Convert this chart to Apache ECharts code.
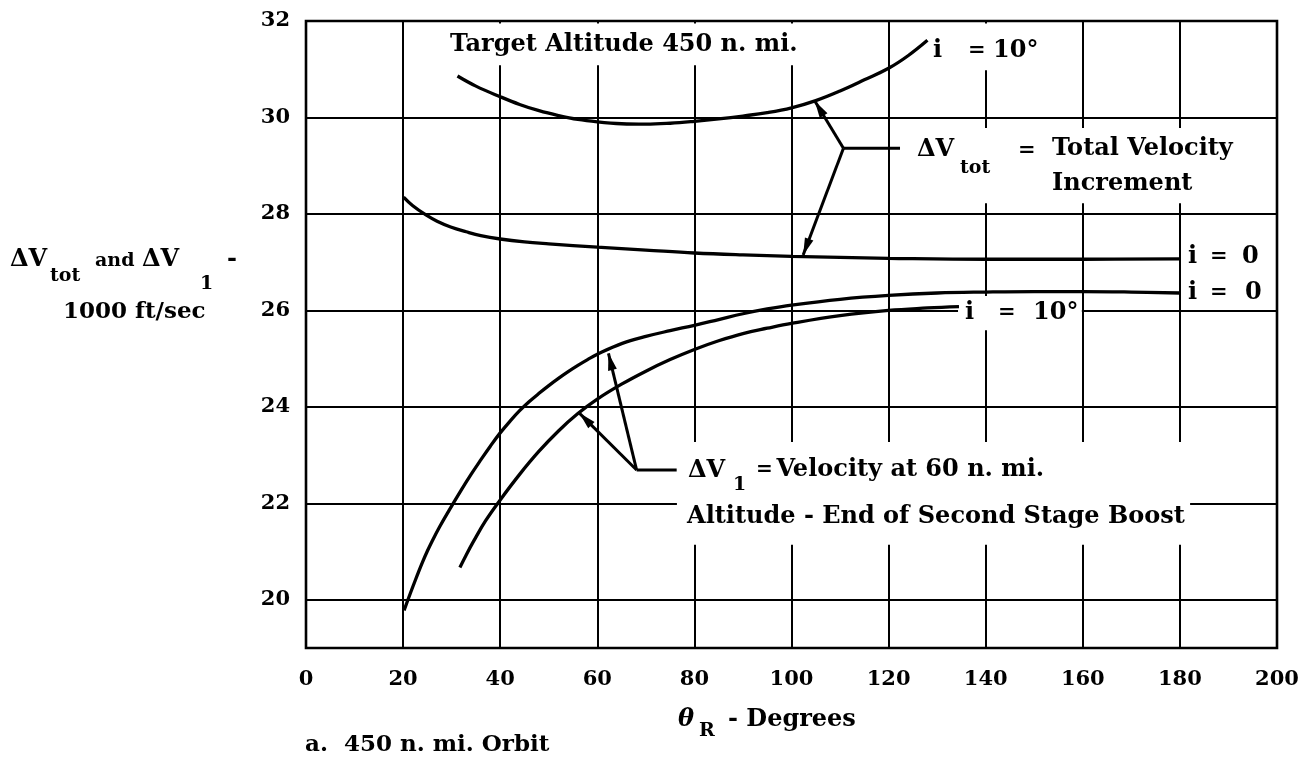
<!DOCTYPE html>
<html>
<head>
<meta charset="utf-8">
<script src="https://cdn.jsdelivr.net/npm/echarts@6/dist/echarts.min.js"></script>
<style>
  html, body { margin: 0; padding: 0; background: #fff; }
  #chart { width: 1312px; height: 761px; }
</style>
</head>
<body>
<div id="chart"></div>
<script>
// Velocity requirements vs. range angle, 450 n. mi. target orbit

const xTickLabels = [0, 20, 40, 60, 80, 100, 120, 140, 160, 180, 200];
const yTickLabels = [20, 22, 24, 26, 28, 30, 32];

// ΔVtot, i = 10°   [θR deg, 1000 ft/sec]
const dvTotIncl10 = [
  [31.2, 30.86], [35, 30.65], [40, 30.43], [44, 30.27], [48, 30.14], [52, 30.04],
  [56, 29.96], [60, 29.91], [65, 29.87], [70, 29.86], [75, 29.88], [80, 29.92],
  [85, 29.97], [90, 30.03], [95, 30.1], [100, 30.2], [105, 30.35], [110, 30.55],
  [115, 30.78], [120, 31.02], [124, 31.28], [128, 31.6]
];

// ΔVtot, i = 0
const dvTotIncl0 = [
  [20.1, 28.35], [22, 28.17], [24.7, 27.98], [27, 27.85], [29.8, 27.73], [33, 27.63],
  [36, 27.55], [40, 27.48], [45, 27.42], [50, 27.38], [60, 27.31], [70, 27.25],
  [80, 27.19], [90, 27.15], [100, 27.12], [110, 27.1], [120, 27.08], [140, 27.06],
  [160, 27.06], [180, 27.07]
];

// ΔV1, i = 0
const dv1Incl0 = [
  [20.2, 19.78], [21, 20.0], [22, 20.27], [23, 20.53], [24, 20.78], [25, 21.01],
  [26, 21.22], [27.5, 21.51], [29.5, 21.86], [32, 22.28], [34, 22.6], [36, 22.9],
  [38, 23.19], [40, 23.46], [42, 23.7], [44, 23.92], [46, 24.11], [48, 24.28],
  [50, 24.44], [52, 24.59], [54, 24.73], [56, 24.86], [58, 24.98], [60, 25.09],
  [65, 25.31], [70, 25.46], [75, 25.58], [80, 25.69], [85, 25.81], [90, 25.93],
  [95, 26.03], [100, 26.11], [110, 26.23], [120, 26.31], [130, 26.36], [140, 26.38],
  [150, 26.39], [160, 26.39], [170, 26.38], [180, 26.36]
];

// ΔV1, i = 10°
const dv1Incl10 = [
  [31.7, 20.67], [33, 20.93], [34.5, 21.21], [37, 21.64], [40, 22.07], [44, 22.6],
  [48, 23.08], [52, 23.5], [56, 23.86], [60, 24.16], [65, 24.47], [70, 24.74],
  [75, 24.98], [80, 25.19], [85, 25.37], [90, 25.52], [95, 25.63], [100, 25.73],
  [110, 25.89], [120, 26.0], [128, 26.05], [134.5, 26.08]
];

// leader lines: [fromX, fromY, toX, toY, arrowhead?]
const leadersTot = [
  [110.7, 29.36, 104.8, 30.34, 1],
  [110.7, 29.36, 102.4, 27.15, 1],
  [110.7, 29.36, 122.35, 29.36, 0]
];
const leadersV1 = [
  [68.1, 22.69, 62.3, 25.11, 1],
  [68.1, 22.69, 56.3, 23.87, 1],
  [68.1, 22.69, 76.35, 22.69, 0]
];

// blank panels behind the in-plot notes: [x0, y0, x1, y1]
const notePanels = [
  [28.63, 31.95, 104.2, 31.08],
  [128.5, 31.95, 151.2, 30.98],
  [123.4, 29.78, 196.9, 28.22],
  [76.4, 23.27, 182.1, 21.14],
  [134.3, 26.30, 159.8, 25.59]
];

const FONT = '"DejaVu Serif", "Liberation Serif", serif';
const TXT = 24, SUB = 19, EQ = 21;

// in-plot notes, anchored at [θR, velocity] (left edge, vertical middle)
const notes = [
  { at: [29.66, 31.50], text: 'Target Altitude 450 n. mi.', size: TXT },
  { at: [129.14, 31.39], text: 'i', size: TXT },
  { at: [136.35, 31.39], text: '=', size: EQ },
  { at: [141.5, 31.39], text: '10°', size: TXT },

  { at: [125.85, 29.34], text: 'ΔV', size: TXT },
  { at: [134.7, 28.95], text: 'tot', size: SUB },
  { at: [146.65, 29.32], text: '=', size: EQ },
  { at: [153.66, 29.36], text: 'Total Velocity', size: TXT },
  { at: [153.66, 28.62], text: 'Increment', size: TXT },

  { at: [135.74, 25.95], text: 'i', size: TXT },
  { at: [142.53, 25.95], text: '=', size: EQ },
  { at: [149.74, 25.95], text: '10°', size: TXT },

  { at: [181.67, 27.11], text: 'i', size: TXT },
  { at: [186.2, 27.11], text: '=', size: EQ },
  { at: [192.8, 27.11], text: '0', size: TXT },
  { at: [181.67, 26.36], text: 'i', size: TXT },
  { at: [186.2, 26.36], text: '=', size: EQ },
  { at: [193.4, 26.36], text: '0', size: TXT },

  { at: [78.68, 22.68], text: 'ΔV', size: TXT },
  { at: [87.95, 22.37], text: '1', size: SUB },
  { at: [92.7, 22.70], text: '=', size: 20 },
  { at: [96.9, 22.70], text: 'Velocity at 60 n. mi.', size: TXT },
  { at: [78.48, 21.72], text: 'Altitude - End of Second Stage Boost', size: TXT }
];

const chart = echarts.init(document.getElementById('chart'), null, { renderer: 'canvas' });

function curve(data) {
  return {
    type: 'line',
    data: data,
    showSymbol: false,
    smooth: 0.4,
    z: 2,
    lineStyle: { color: '#000', width: 3.3 },
    silent: true
  };
}

function leaderSeries(data) {
  return {
    type: 'custom',
    data: data,
    z: 2,
    clip: false,
    silent: true,
    renderItem: function (params, api) {
      const p0 = api.coord([api.value(0), api.value(1)]);
      const p1 = api.coord([api.value(2), api.value(3)]);
      const children = [{
        type: 'line',
        shape: { x1: p0[0], y1: p0[1], x2: p1[0], y2: p1[1] },
        style: { stroke: '#000', lineWidth: 3 }
      }];
      if (api.value(4)) {
        const dx = p1[0] - p0[0], dy = p1[1] - p0[1];
        const len = Math.hypot(dx, dy);
        const ux = dx / len, uy = dy / len;
        const L = 17, W = 4.5;
        const bx = p1[0] - ux * L, by = p1[1] - uy * L;
        children.push({
          type: 'polygon',
          shape: { points: [[p1[0], p1[1]], [bx - uy * W, by + ux * W], [bx + uy * W, by - ux * W]] },
          style: { fill: '#000' }
        });
      }
      return { type: 'group', children: children };
    }
  };
}

const option = {
  animation: false,
  backgroundColor: '#fff',
  grid: {
    left: 306, right: 35, top: 21, bottom: 113,
    show: true, borderColor: '#000', borderWidth: 2.6, backgroundColor: '#fff'
  },
  xAxis: {
    type: 'value', min: 0, max: 200, interval: 20,
    axisLine: { show: false }, axisTick: { show: false },
    axisLabel: {
      margin: 21, color: '#000', fontFamily: FONT, fontWeight: 'bold', fontSize: 21,
      formatter: v => xTickLabels.includes(v) ? String(v) : ''
    },
    splitLine: { show: true, lineStyle: { color: '#000', width: 2 } }
  },
  yAxis: {
    type: 'value', min: 19, max: 32, interval: 1,
    axisLine: { show: false }, axisTick: { show: false },
    axisLabel: {
      margin: 16, color: '#000', fontFamily: FONT, fontWeight: 'bold', fontSize: 21,
      formatter: v => yTickLabels.includes(v) ? String(v) : ''
    },
    // gridlines only at the labelled (even) values
    splitLine: { show: true, lineStyle: { color: ['rgba(0,0,0,0)', '#000'], width: 2 } }
  },
  series: [
    {
      type: 'custom',
      data: notePanels,
      z: 1,
      clip: false,
      silent: true,
      renderItem: function (params, api) {
        const a = api.coord([api.value(0), api.value(1)]);
        const b = api.coord([api.value(2), api.value(3)]);
        return {
          type: 'rect',
          shape: { x: a[0], y: a[1], width: b[0] - a[0], height: b[1] - a[1] },
          style: { fill: '#fff' }
        };
      }
    },
    curve(dvTotIncl10),
    curve(dvTotIncl0),
    curve(dv1Incl0),
    curve(dv1Incl10),
    leaderSeries(leadersTot),
    leaderSeries(leadersV1),
    {
      type: 'custom',
      data: notes.map(n => n.at),
      z: 3,
      clip: false,
      silent: true,
      renderItem: function (params, api) {
        const n = notes[params.dataIndex];
        const p = api.coord([api.value(0), api.value(1)]);
        return {
          type: 'text',
          x: p[0], y: p[1],
          style: {
            text: n.text, fill: '#000',
            fontFamily: FONT, fontWeight: 'bold', fontSize: n.size,
            align: 'left', verticalAlign: 'middle'
          }
        };
      }
    }
  ],
  graphic: {
    elements: [
      // y-axis title
      { type: 'text', x: 10, y: 260, style: { text: 'ΔV', fill: '#000', fontFamily: FONT, fontWeight: 'bold', fontSize: 24, verticalAlign: 'middle' } },
      { type: 'text', x: 50, y: 276, style: { text: 'tot', fill: '#000', fontFamily: FONT, fontWeight: 'bold', fontSize: 19, verticalAlign: 'middle' } },
      { type: 'text', x: 95, y: 261, style: { text: 'and', fill: '#000', fontFamily: FONT, fontWeight: 'bold', fontSize: 19, verticalAlign: 'middle' } },
      { type: 'text', x: 142, y: 260, style: { text: 'ΔV', fill: '#000', fontFamily: FONT, fontWeight: 'bold', fontSize: 24, verticalAlign: 'middle' } },
      { type: 'text', x: 200, y: 284, style: { text: '1', fill: '#000', fontFamily: FONT, fontWeight: 'bold', fontSize: 19, verticalAlign: 'middle' } },
      { type: 'text', x: 227, y: 260, style: { text: '-', fill: '#000', fontFamily: FONT, fontWeight: 'bold', fontSize: 24, verticalAlign: 'middle' } },
      { type: 'text', x: 63, y: 312, style: { text: '1000 ft/sec', fill: '#000', fontFamily: FONT, fontWeight: 'bold', fontSize: 23, verticalAlign: 'middle' } },
      // x-axis title
      { type: 'text', x: 678, y: 720, style: { text: 'θ', fill: '#000', fontFamily: FONT, fontWeight: 'bold', fontStyle: 'italic', fontSize: 24, verticalAlign: 'middle' } },
      { type: 'text', x: 699, y: 731, style: { text: 'R', fill: '#000', fontFamily: FONT, fontWeight: 'bold', fontSize: 19, verticalAlign: 'middle' } },
      { type: 'text', x: 728, y: 720, style: { text: '- Degrees', fill: '#000', fontFamily: FONT, fontWeight: 'bold', fontSize: 24, verticalAlign: 'middle' } },
      // caption
      { type: 'text', x: 305, y: 745, style: { text: 'a.  450 n. mi. Orbit', fill: '#000', fontFamily: FONT, fontWeight: 'bold', fontSize: 23, verticalAlign: 'middle' } }
    ]
  }
};

chart.setOption(option);
</script>
</body>
</html>
